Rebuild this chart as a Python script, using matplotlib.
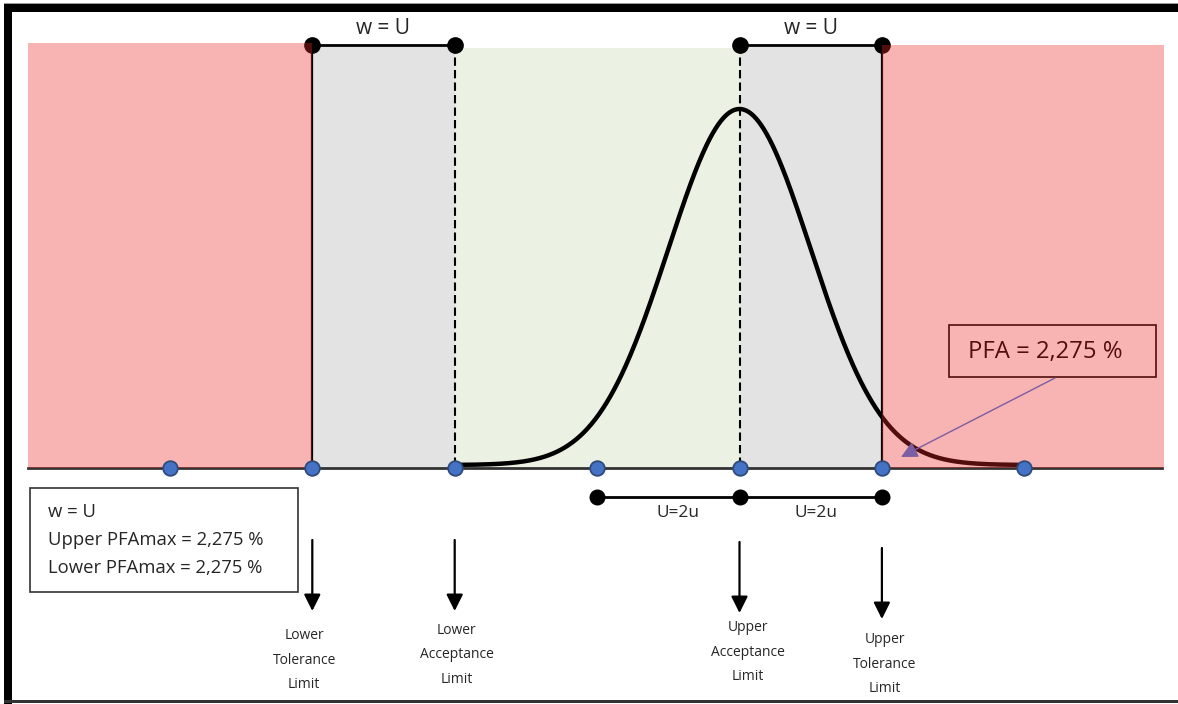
import numpy as np
import matplotlib
matplotlib.use("Agg")
import matplotlib.pyplot as plt
from matplotlib.patches import Rectangle

plt.rcParams['font.family'] = ['Open Sans', 'DejaVu Sans']

# ---- data (x in units of standard uncertainty u, mean at the upper acceptance limit) ----
axis_points = [-8, -6, -4, -2, 0, 2, 4]          # blue markers on the baseline
lower_tol, lower_acc, upper_acc, upper_tol = -6, -4, 0, 2
guard_bands = [(-6, -4), (0, 2)]                  # w = U
u_span = [-2, 0, 2]                               # U = 2u
limit_labels = ["Lower\nTolerance\nLimit", "Lower\nAcceptance\nLimit",
                "Upper\nAcceptance\nLimit", "Upper\nTolerance\nLimit"]
limit_pos = [lower_tol, lower_acc, upper_acc, upper_tol]
curve_range = (-4, 4)
pfa_text = "PFA = 2,275 %"
info_lines = ["w = U", "Upper PFAmax = 2,275 %", "Lower PFAmax = 2,275 %"]

# ---- layout (pixel-based vertical scale) ----
W, H = 1178, 704
PX_U = 71.2          # pixels per u
X0 = 739.5           # pixel of x = 0
BASE = 468.0         # baseline pixel row
TOP = 45.0
PEAK = 356.0

def px(xp):
    return (xp - X0) / PX_U

fig = plt.figure(figsize=(W / 100, H / 100), dpi=100)
ax = fig.add_axes([0, 0, 1, 1])
ax.set_xlim(px(0), px(W))
ax.set_ylim(H, 0)
ax.axis('off')

pink_overlay = (237 / 255, 38 / 255, 38 / 255)
gray = '#E3E3E3'
green = '#EBF1E3'
txt = '#262626'

# regions
ax.add_patch(Rectangle((px(28), TOP - 2), lower_tol - px(28), BASE - TOP + 2,
                       facecolor=pink_overlay, alpha=0.35, lw=0, zorder=6))
ax.add_patch(Rectangle((upper_tol, TOP), px(1164) - upper_tol, BASE - TOP,
                       facecolor=pink_overlay, alpha=0.35, lw=0, zorder=6))
for a, b in guard_bands:
    ax.add_patch(Rectangle((a, TOP + 2), b - a, BASE - TOP - 2,
                           facecolor=gray, lw=0, zorder=1))
ax.add_patch(Rectangle((lower_acc, TOP + 3), upper_acc - lower_acc, BASE - TOP - 3,
                       facecolor=green, lw=0, zorder=1))

# vertical limit lines
ax.plot([lower_tol, lower_tol], [TOP, BASE], color='black', lw=1.6, zorder=3)
ax.plot([upper_tol, upper_tol], [TOP, BASE], color='black', lw=1.6, zorder=3)
for xv in (lower_acc, upper_acc):
    ax.plot([xv, xv], [TOP, BASE], color='black', lw=1.5, ls=(0, (4, 2)), zorder=3)

# top guard band markers
for a, b in guard_bands:
    ax.plot([a, b], [TOP, TOP], color='black', lw=2, zorder=4,
            marker='o', ms=11, mfc='black', mec='black')
    ax.text((a + b) / 2, 29, "w = U", ha='center', va='center', fontsize=15,
            color=txt, zorder=7)

# baseline
ax.plot([px(28), px(1162)], [BASE, BASE], color='#333333', lw=2, zorder=3)

# normal curve
xs = np.linspace(curve_range[0], curve_range[1], 600)
ys = BASE - 3 - PEAK * np.exp(-xs ** 2 / 2)
ax.plot(xs, ys, color='black', lw=3.2, solid_capstyle='butt', zorder=4)

# blue axis markers
ax.plot(axis_points, [BASE] * len(axis_points), ls='none', marker='o', ms=10.5,
        mfc='#4472C4', mec='#2F4B7C', mew=1.3, zorder=8)

# U = 2u span
ax.plot(u_span, [497] * len(u_span), color='black', lw=2, marker='o', ms=10.5,
        mfc='black', mec='black', zorder=4)
ax.text(-0.86, 513, "U=2u", ha='center', va='center', fontsize=12.4, color=txt)
ax.text(1.08, 513, "U=2u", ha='center', va='center', fontsize=12.4, color=txt)

# arrows and limit labels
arrow_y = [(540, 611), (540, 611), (542, 613), (548, 619)]
label_y = [660, 655, 652, 664]
label_dx = [-8, 2, 8, 3]
for xp, (y1, y2), lab, ly, dx in zip(limit_pos, arrow_y, limit_labels, label_y, label_dx):
    ax.annotate("", xy=(xp, y2), xytext=(xp, y1),
                arrowprops=dict(arrowstyle='-|>,head_length=1.0,head_width=0.5',
                                color='black', lw=1.6, shrinkA=0, shrinkB=0))
    ax.text(xp + dx / PX_U, ly, lab, ha='center', va='center', fontsize=10,
            color=txt, linespacing=1.9, multialignment='center')

# info box
ax.add_patch(Rectangle((px(30), 488), px(298) - px(30), 104, facecolor='white',
                       edgecolor='#333333', lw=1.2, zorder=5))
for i, line in enumerate(info_lines):
    ax.text(px(48), 512 + 28 * i, line, ha='left', va='center', fontsize=13.3,
            color=txt, zorder=6)

# PFA box and arrow
ax.add_patch(Rectangle((px(949), 325), px(1156) - px(949), 52, facecolor='none',
                       edgecolor='black', lw=1.2, zorder=5))
ax.text(px(968), 352, pfa_text, ha='left', va='center', fontsize=17.2,
        color='black', zorder=5)
ax.annotate("", xy=(px(901), 457), xytext=(px(1055), 378),
            arrowprops=dict(arrowstyle='-|>,head_length=1.0,head_width=0.5',
                            color='#7B5EA3', lw=1.0, shrinkA=0, shrinkB=0), zorder=7)

# frame
def fr(x, y, w, h, c):
    fig.add_artist(Rectangle((x / W, 1 - (y + h) / H), w / W, h / H,
                             transform=fig.transFigure, facecolor=c, lw=0))
fr(4, 3, W - 4, 1.5, '#999999')
fr(4, 4, W - 4, 8, 'black')
fr(4, 4, 8, H - 4, 'black')
fr(4, 700, W - 4, 3, '#333333')

fig.savefig("out.png", dpi=100)
